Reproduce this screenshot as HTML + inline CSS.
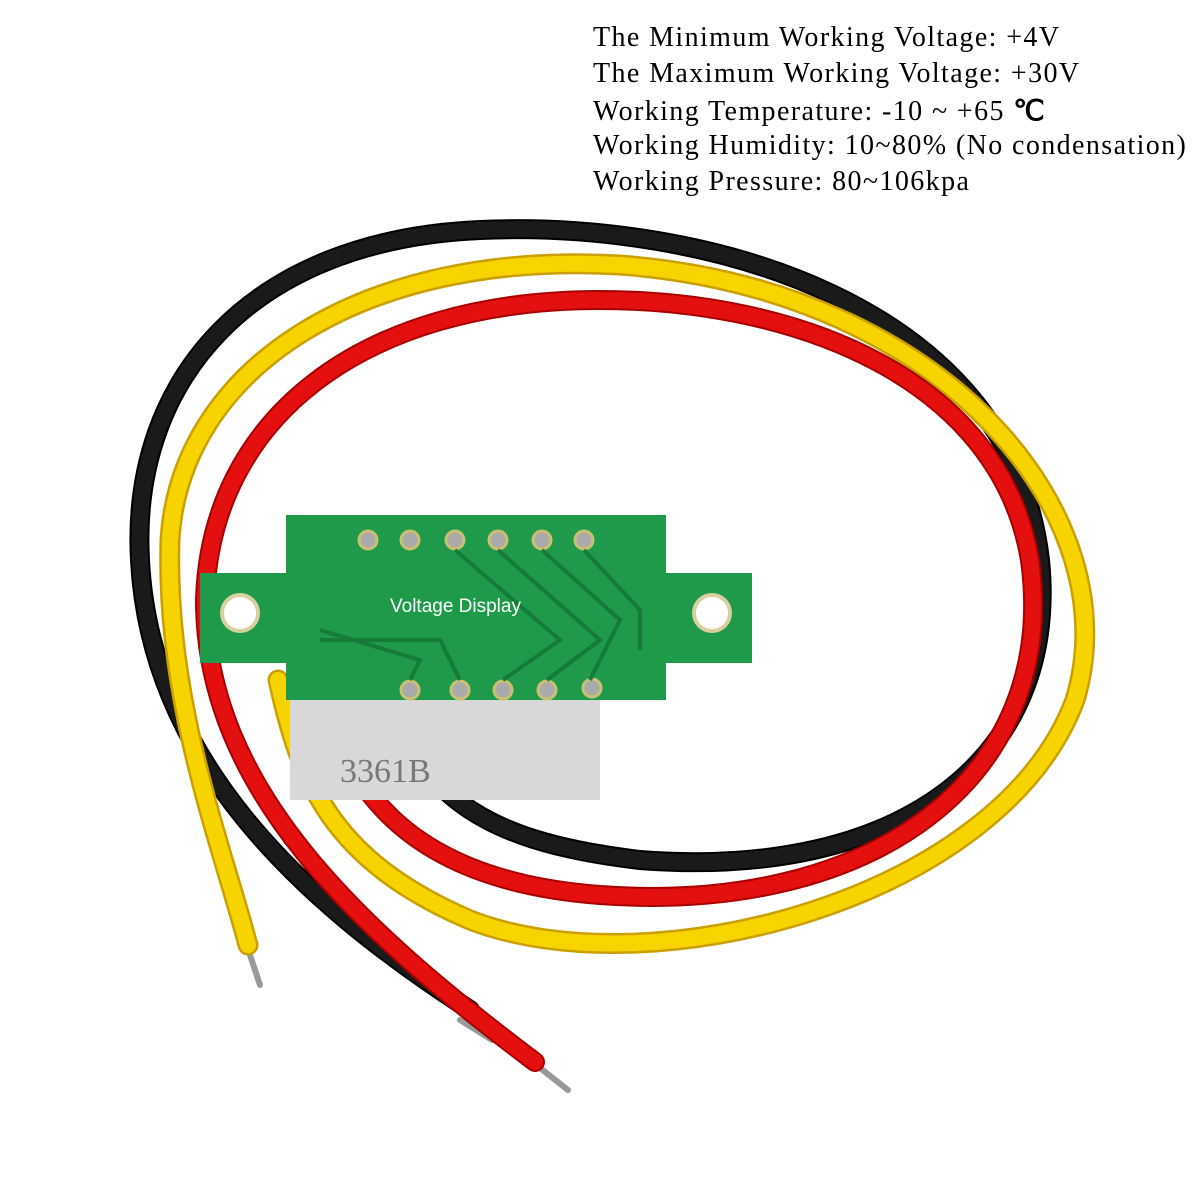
<!DOCTYPE html>
<html><head><meta charset="utf-8"><style>
html,body{margin:0;padding:0;background:#fff;}
.t{position:absolute;left:593px;font-family:"Liberation Serif",serif;font-size:28px;letter-spacing:1.4px;color:#000;white-space:nowrap;}
</style></head><body>
<div style="position:relative;width:1200px;height:1200px;overflow:hidden;">
<div class="t" style="top:22px">The Minimum Working Voltage: +4V</div>
<div class="t" style="top:58px">The Maximum Working Voltage: +30V</div>
<div class="t" style="top:94px">Working Temperature: -10 ~ +65 <b>℃</b></div>
<div class="t" style="top:130px">Working Humidity: 10~80% (No condensation)</div>
<div class="t" style="top:166px">Working Pressure: 80~106kpa</div>
<svg width="1200" height="1200" style="position:absolute;left:0;top:0">
<g fill="none" stroke-linecap="round">
<line x1="245" y1="940" x2="260" y2="985" stroke="#999" stroke-width="6"/>
<line x1="460" y1="1020" x2="492" y2="1040" stroke="#999" stroke-width="6"/>
<line x1="530" y1="1060" x2="568" y2="1090" stroke="#999" stroke-width="6"/>
<path d="M375,675 C420,790 470,840 640,860 C900,880 1060,760 1040,560 C1010,300 700,220 480,230 C250,240 130,380 140,560 C150,760 300,900 470,1010" stroke="#000" stroke-width="20"/>
<path d="M375,675 C420,790 470,840 640,860 C900,880 1060,760 1040,560 C1010,300 700,220 480,230 C250,240 130,380 140,560 C150,760 300,900 470,1010" stroke="#1a1a1a" stroke-width="16"/>
<path d="M278,680 C300,780 330,860 470,920 C650,990 1000,900 1075,700 C1130,520 950,290 620,265 C360,250 180,370 170,540 C165,700 220,840 248,945" stroke="#c9a000" stroke-width="21"/>
<path d="M278,680 C300,780 330,860 470,920 C650,990 1000,900 1075,700 C1130,520 950,290 620,265 C360,250 180,370 170,540 C165,700 220,840 248,945" stroke="#f7d400" stroke-width="16"/>
<path d="M318,672 C340,780 400,880 600,895 C870,915 1060,780 1030,560 C1000,380 800,300 600,300 C360,300 210,420 205,600 C205,790 360,930 535,1062" stroke="#a80000" stroke-width="20"/>
<path d="M318,672 C340,780 400,880 600,895 C870,915 1060,780 1030,560 C1000,380 800,300 600,300 C360,300 210,420 205,600 C205,790 360,930 535,1062" stroke="#e41010" stroke-width="16"/>
</g>
<rect x="290" y="695" width="310" height="105" fill="#d8d8d8"/>
<text x="340" y="782" font-family="Liberation Serif" font-size="34" fill="#777">3361B</text>
<rect x="200" y="573" width="552" height="90" fill="#1e9a4a"/>
<rect x="286" y="515" width="380" height="185" fill="#1e9a4a"/>
<circle cx="240" cy="613" r="18" fill="#fff" stroke="#d9d0a0" stroke-width="4"/>
<circle cx="712" cy="613" r="18" fill="#fff" stroke="#d9d0a0" stroke-width="4"/>
<g fill="#aaa" stroke="#c9c070" stroke-width="3">
<circle cx="368" cy="540" r="9"/><circle cx="410" cy="540" r="9"/><circle cx="455" cy="540" r="9"/><circle cx="498" cy="540" r="9"/><circle cx="542" cy="540" r="9"/><circle cx="584" cy="540" r="9"/>
<circle cx="410" cy="690" r="9"/><circle cx="460" cy="690" r="9"/><circle cx="503" cy="690" r="9"/><circle cx="547" cy="690" r="9"/><circle cx="592" cy="688" r="9"/>
</g>
<g stroke="#167a3a" stroke-width="4" fill="none">
<path d="M584,550 L640,610 L640,650"/><path d="M542,550 L620,620 L590,680"/><path d="M498,550 L600,640 L547,680"/><path d="M455,550 L560,640 L503,680"/><path d="M320,640 L440,640 L460,680"/><path d="M320,630 L420,660 L410,680"/>
</g>
<text x="390" y="612" font-family="Liberation Sans" font-size="19" fill="#fff">Voltage Display</text>
</svg>
</div>
</body></html>
